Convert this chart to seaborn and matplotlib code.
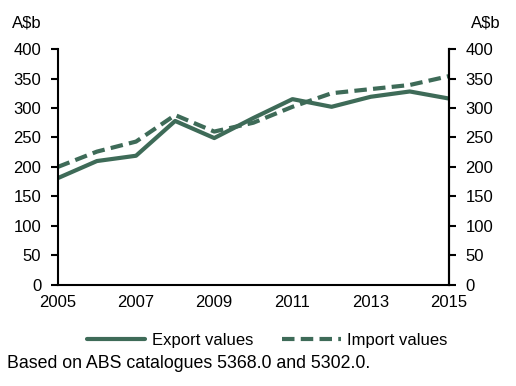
import pandas as pd
import matplotlib.pyplot as plt
import seaborn as sns

years = list(range(2005, 2016))
export_values = [181, 210, 219, 278, 249, 283, 315, 302, 319, 328, 316]
import_values = [200, 226, 243, 288, 260, 275, 302, 325, 332, 339, 354]

df = pd.DataFrame({"Year": years, "Export values": export_values, "Import values": import_values})
long = df.melt(id_vars="Year", var_name="Series", value_name="Value")

sns.set_style("white")
plt.rcParams["font.family"] = ["Liberation Sans", "DejaVu Sans"]
plt.rcParams["font.size"] = 12
plt.rcParams["text.color"] = "black"
plt.rcParams["xtick.color"] = "black"
plt.rcParams["ytick.color"] = "black"

color = "#3e6b58"
fig = plt.figure(figsize=(5.16, 3.86), dpi=100)
ax = fig.add_axes([0.112, 0.262, 0.758, 0.611])

sns.lineplot(data=long, x="Year", y="Value", hue="Series", style="Series",
             palette=[color, color], dashes=[(None, None), (3, 1.5)],
             linewidth=3, ax=ax, legend=False)

ax.set_xlim(2005, 2015)
ax.set_ylim(0, 400)
ax.set_xticks(range(2005, 2016))
ax.set_xticklabels([str(y) if y % 2 == 1 else "" for y in years])
ax.set_yticks(range(0, 401, 50))
ax.set_xlabel("")
ax.set_ylabel("")
for s in ["left", "right", "bottom"]:
    ax.spines[s].set_visible(True)
    ax.spines[s].set_color("black")
    ax.spines[s].set_linewidth(1.5)
ax.spines["top"].set_visible(False)
ax.tick_params(axis="y", direction="out", length=5, width=1.5, labelsize=12, pad=7)
ax.tick_params(axis="x", direction="out", length=5, width=1.5, labelsize=12, pad=2)

ax2 = ax.twinx()
ax2.set_ylim(0, 400)
ax2.set_yticks(range(0, 401, 50))
for s in ["left", "top", "bottom"]:
    ax2.spines[s].set_visible(False)
ax2.spines["right"].set_color("black")
ax2.spines["right"].set_linewidth(1.5)
ax2.tick_params(axis="y", direction="out", length=5, width=1.5, labelsize=12, pad=7)

fig.text(0.023, 0.93, "A$b", fontsize=12)
fig.text(0.97, 0.93, "A$b", fontsize=12, ha="right")

handles = [plt.Line2D([], [], color=color, lw=3),
           plt.Line2D([], [], color=color, lw=3, dashes=(3, 1.5))]
fig.legend(handles, ["Export values", "Import values"], loc="center",
           bbox_to_anchor=(0.518, 0.118), ncol=2, frameon=False, fontsize=12,
           handlelength=3.5, columnspacing=1.75, handletextpad=0.4)

fig.text(0.014, 0.047, "Based on ABS catalogues 5368.0 and 5302.0.", fontsize=12.8)

fig.savefig("out.png", dpi=100)
